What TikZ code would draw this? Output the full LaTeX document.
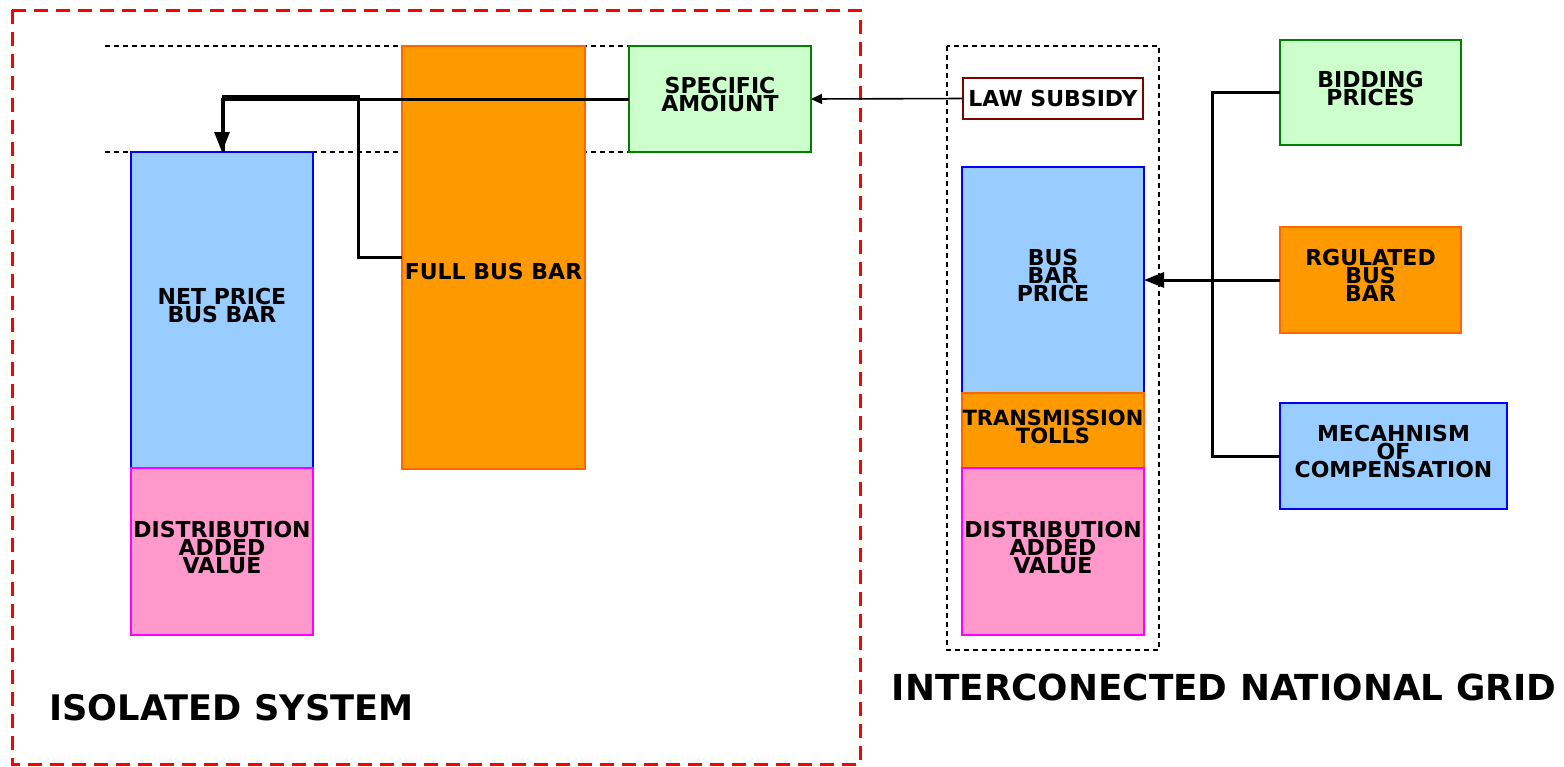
\documentclass[tikz,border=0pt]{standalone}
\usepackage{fontspec}
\setmainfont{DejaVu Sans}
\usetikzlibrary{arrows.meta}
\definecolor{orfill}{HTML}{FF9900}
\definecolor{ordraw}{HTML}{FF6600}
\definecolor{grfill}{HTML}{CCFFCC}
\definecolor{grdraw}{HTML}{008000}
\definecolor{blfill}{HTML}{99CCFF}
\definecolor{bldraw}{HTML}{0000FF}
\definecolor{pkfill}{HTML}{FF99CC}
\definecolor{pkdraw}{HTML}{FF00FF}
\definecolor{lawdraw}{HTML}{800000}
\newcommand{\upshift}{\\[-7.5pt]\strut}
\tikzset{
  box/.style={rectangle, inner sep=0pt, outer sep=0pt, line width=0.8pt, align=center,
    font=\bfseries\fontsize{11pt}{9pt}\selectfont, text=black},
  orbox/.style={box, fill=orfill, draw=ordraw},
  grbox/.style={box, fill=grfill, draw=grdraw},
  blbox/.style={box, fill=blfill, draw=bldraw},
  pkbox/.style={box, fill=pkfill, draw=pkdraw},
  lawbox/.style={box, fill=white, draw=lawdraw},
  conn/.style={line width=1.5pt, black},
  bigtip/.style={-{Triangle[length=10pt,width=7.5pt]}},
  thinconn/.style={line width=0.8pt, black, -{Triangle[length=5.5pt,width=5pt]}},
  guide/.style={line width=0.6pt, black, dash pattern=on 2.5pt off 2pt},
  title/.style={font=\bfseries\fontsize{17.6pt}{20pt}\selectfont, inner sep=0pt}
}
\begin{document}
\begin{tikzpicture}[x=0.5pt,y=-0.5pt]
\useasboundingbox (0,0) rectangle (1564,766);
% red frame
\draw[red, line width=1.5pt, dash pattern=on 7pt off 4pt] (12,10) rectangle (860,764);
% guide lines
\draw[guide] (105,46) -- (660,46);
\draw[guide] (105,152) -- (660,152);
% left boxes
\node[orbox, minimum width=91.5pt, minimum height=211.5pt] (full) at (493.5,257.5) {\strut\\[4pt]FULL BUS BAR};
\node[grbox, minimum width=91pt, minimum height=53pt] (spec) at (720,99) {SPECIFIC\\AMOIUNT\upshift};
\node[blbox, minimum width=91pt, minimum height=158pt] (net) at (222,310) {NET PRICE\\ BUS BAR\upshift};
\node[pkbox, minimum width=91pt, minimum height=83.5pt] (dist1) at (222,551.5) {DISTRIBUTION\\ADDED\\VALUE\upshift};
% right dashed group
\draw[guide] (947,46) rectangle (1159,650);
\node[lawbox, minimum width=90pt, minimum height=20.5pt] (law) at (1053,98.5) {LAW SUBSIDY};
\node[blbox, minimum width=91pt, minimum height=113pt] (bbp) at (1053,280) {BUS\\BAR\\PRICE\upshift};
\node[orbox, minimum width=91pt, minimum height=37.5pt, font=\bfseries\fontsize{10.5pt}{9pt}\selectfont] (trans) at (1053,430.5) {TRANSMISSION\\TOLLS\upshift};
\node[pkbox, minimum width=91pt, minimum height=83.5pt] (dist2) at (1053,551.5) {DISTRIBUTION\\ADDED\\VALUE\upshift};
\node[grbox, minimum width=90.5pt, minimum height=52.5pt] (bid) at (1370.5,92.5) {BIDDING\\PRICES\upshift};
\node[orbox, minimum width=90.5pt, minimum height=53pt] (reg) at (1370.5,280) {RGULATED\\BUS\\BAR\upshift};
\node[blbox, minimum width=113.5pt, minimum height=53pt] (mech) at (1393.5,456) {MECAHNISM\\OF\\COMPENSATION\upshift};
% connectors left
\coordinate (j) at (358,96.5);
\draw[conn] (full.west) -| (j) -| ([xshift=0.6pt]net.north);
\draw[conn,bigtip] (spec.west) -| (net.north);
\draw[thinconn] (law.west) -- (spec.east);
% connectors right
\coordinate (v) at (1212,280);
\draw[conn] (bid.west) -| (v);
\draw[conn] (mech.west) -| (v);
\draw[conn,bigtip] (reg.west) -- (bbp.east);
% titles
\node[title, anchor=west] (iso) at (49,708) {ISOLATED SYSTEM};
\node[title, font=\bfseries\fontsize{17.9pt}{20pt}\selectfont] (ing) at (1224,687) {INTERCONECTED NATIONAL GRID};
\end{tikzpicture}
\end{document}
